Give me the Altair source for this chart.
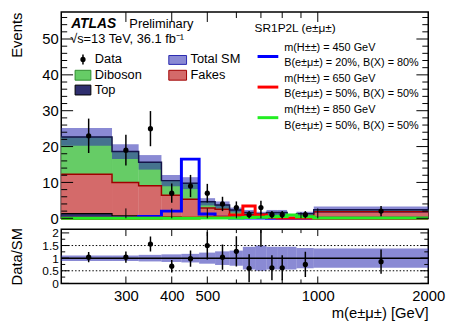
import altair as alt
import pandas as pd

# ---------------- data ----------------
edges = [200, 275, 325, 375, 425, 475, 525, 575, 625, 675, 725, 775, 825, 875, 975, 2000]
centers = [237.5, 300, 350, 400, 450, 500, 550, 600, 650, 700, 750, 800, 850, 925, 1487.5]
top_bkg = [1.3, 0.7, 0.5, 0.3, 0.2, 0.1, 0.1, 0.05, 0.05, 0.05, 0.05, 0.05, 0.0, 0.05, 0.1]
fakes = [11.0, 9.3, 8.6, 6.1, 5.1, 2.8, 2.4, 0.95, 0.95, 0.45, 0.55, 0.55, 0.0, 0.55, 1.7]
diboson = [10.4, 8.6, 6.5, 4.1, 4.5, 1.7, 1.2, 1.3, 0.6, 0.7, 1.0, 1.0, 0.0, 0.7, 0.6]
rel_unc = [0.11, 0.11, 0.13, 0.15, 0.17, 0.22, 0.27, 0.30, 0.45, 0.50, 0.45, 0.45, 0.45, 0.40, 0.38]
data_obs = [23, 19, 25, 7, 9, 7, 4, 3, 1, 3, 1, 1, None, 1, 2]
data_err = [4.8, 4.3, 4.9, 2.7, 3.1, 2.6, 2.0, 1.7, 1.0, 1.9, 1.0, 1.0, None, 1.0, 1.4]
ratio = [1.04, 1.04, 1.56, 0.68, 0.98, 1.5, 1.04, 1.27, 0.6, 2.5, 0.62, 0.62, None, 0.75, 0.86]
ratio_err = [0.2, 0.22, 0.3, 0.25, 0.32, 0.55, 0.5, 0.6, 0.55, 1.05, 0.5, 0.5, None, 0.5, 0.48]
sig450 = [0.0, 0.1, 0.5, 2.0, 16.5, 1.2, 0.3, 0.1, 0.05, 0.05, 0.02, 0.02, 0.02, 0.02, 0.01]
sig650 = [0.0, 0.0, 0.0, 0.05, 0.1, 0.2, 0.3, 0.9, 3.4, 0.9, 0.3, 0.1, 0.1, 0.05, 0.02]
sig850 = [0.0, 0.0, 0.0, 0.0, 0.02, 0.05, 0.1, 0.1, 0.2, 0.3, 0.4, 0.5, 0.9, 0.4, 0.1]

x_tick_labels = [300, 400, 500, 1000, 2000]
x_ticks_major = [300, 400, 500, 1000]
x_ticks_minor = [600, 700, 800, 900]
y_top_major = [0, 10, 20, 30, 40, 50]
y_top_minor = [2, 4, 6, 8, 12, 14, 16, 18, 22, 24, 26, 28, 32, 34, 36, 38, 42, 44, 46, 48, 52, 54, 56]
y_bot_major = [0, 0.5, 1, 1.5, 2]
y_bot_minor = [0.25, 0.75, 1.25, 1.75]
ref_solid = [1.0]
ref_dotted = [0.5, 1.5]

# ---------------- layout constants ----------------
W = 372
H_TOP = 209
H_BOT = 55
FONT = "Liberation Sans"
HATCH = "#2a2ab0"
HATCH_OP = 0.55
C_DIB = "#66cc66"
C_FAK = "#d46a6a"
C_TOP = "#2f2f6f"

xsc = alt.Scale(type="log", domain=[200, 2000], nice=False)
ysc_top = alt.Scale(domain=[0, 57.5], nice=False)
ysc_bot = alt.Scale(domain=[0, 2.15], nice=False)

bins = pd.DataFrame({"lo": edges[:-1], "hi": edges[1:], "c": centers,
                     "top": top_bkg, "fakes": fakes, "dib": diboson, "unc": rel_unc})
bins["zero"] = 0.0
bins["s1"] = bins["top"]
bins["s2"] = bins["s1"] + bins["fakes"]
bins["tot"] = bins["s2"] + bins["dib"]
bins["blo"] = bins["tot"] * (1 - bins["unc"])
bins["bhi"] = bins["tot"] * (1 + bins["unc"])
bins["rlo"] = 1 - bins["unc"]
bins["rhi"] = 1 + bins["unc"]

pts = pd.DataFrame({"c": centers, "d": data_obs, "e": data_err, "r": ratio, "re": ratio_err}).dropna()
pts["dlo"] = pts["d"] - pts["e"]
pts["dhi"] = pts["d"] + pts["e"]
pts["rlo"] = pts["r"] - pts["re"]
pts["rhi"] = pts["r"] + pts["re"]


def step(vals):
    return pd.DataFrame({"x": edges, "y": list(vals) + [vals[-1]]})


# axes (identical axis objects on every layer so that Vega-Lite can merge them)
YAX_TOP = alt.Axis(values=y_top_major, title="Events", titleAnchor="end", titlePadding=18,
                   ticks=False, tickSize=0, domain=False, labelPadding=3, grid=False,
                   labelFlush=False, labelOverlap=False)
YAX_BOT = alt.Axis(values=y_bot_major, labelExpr="'' + datum.value", ticks=False, tickSize=0,
                   domain=False, labelPadding=3, title="Data/SM", titlePadding=18, grid=False,
                   labelFlush=False, labelOverlap=False, labelFontSize=12)
XAX_BOT = alt.Axis(values=x_tick_labels, labelExpr="'' + datum.value", ticks=False, tickSize=0,
                   domain=False, labelPadding=5, title="m(e±μ±) [GeV]", titleAnchor="end",
                   titlePadding=3, labelFlush=False, labelOverlap=False, grid=False)

TOP = dict(ysc=ysc_top, yax=YAX_TOP, xax=None, h=H_TOP)
BOT = dict(ysc=ysc_bot, yax=YAX_BOT, xax=XAX_BOT, h=H_BOT)


def X(field, p):
    return alt.X(field, scale=xsc, axis=p["xax"])


def Y(field, p):
    return alt.Y(field, scale=p["ysc"], axis=p["yax"])


def rects(df, y0, y1, p, **kw):
    return alt.Chart(df).mark_rect(**kw).encode(
        x=X("lo:Q", p), x2="hi:Q", y=Y(f"{y0}:Q", p), y2=f"{y1}:Q")


def sline(vals, color, width, p):
    return alt.Chart(step(vals)).mark_line(interpolate="step-after", color=color, strokeWidth=width).encode(
        x=X("x:Q", p), y=Y("y:Q", p))


def yticks(vals, length, p):
    d = pd.DataFrame({"v": vals})
    base = alt.Chart(d).mark_rule(color="black", strokeWidth=1)
    left = base.encode(y=Y("v:Q", p), x=alt.value(0), x2=alt.value(length))
    right = base.encode(y=Y("v:Q", p), x=alt.value(W), x2=alt.value(W - length))
    return [left, right]


def xticks(vals, length, p):
    d = pd.DataFrame({"v": vals})
    base = alt.Chart(d).mark_rule(color="black", strokeWidth=1)
    bot = base.encode(x=X("v:Q", p), y=alt.value(p["h"]), y2=alt.value(p["h"] - length))
    top = base.encode(x=X("v:Q", p), y=alt.value(0), y2=alt.value(length))
    return [bot, top]


blank = pd.DataFrame({"a": [0]})


def txt(s, x, y, size=13, weight="normal", style="normal"):
    return alt.Chart(blank).mark_text(text=s, align="left", baseline="middle", font=FONT, fontSize=size,
                                      fontWeight=weight, fontStyle=style, color="black").encode(
        x=alt.value(x), y=alt.value(y))


def box(x0, x1, y0, y1, fill, stroke, op=1.0):
    return alt.Chart(blank).mark_rect(fill=fill, stroke=stroke, strokeWidth=1, fillOpacity=op).encode(
        x=alt.value(x0), x2=alt.value(x1), y=alt.value(y0), y2=alt.value(y1))


def seg(x0, x1, y0, y1, color, width):
    return alt.Chart(blank).mark_rule(color=color, strokeWidth=width).encode(
        x=alt.value(x0), x2=alt.value(x1), y=alt.value(y0), y2=alt.value(y1))


# ---------------- top panel ----------------
err_top = alt.Chart(pts).mark_rule(color="black", strokeWidth=1.5).encode(
    x=X("c:Q", TOP), y=Y("dlo:Q", TOP), y2="dhi:Q")
dots_top = alt.Chart(pts).mark_circle(color="black", size=28, opacity=1).encode(
    x=X("c:Q", TOP), y=Y("d:Q", TOP))

tot_vals = list(bins["tot"])
s2_vals = list(bins["s2"])

top_layers = [
    rects(bins, "zero", "s1", TOP, color=C_TOP, stroke=C_TOP, strokeWidth=0.4),
    rects(bins, "s1", "s2", TOP, color=C_FAK, stroke=C_FAK, strokeWidth=0.4),
    rects(bins, "s2", "tot", TOP, color=C_DIB, stroke=C_DIB, strokeWidth=0.4),
    rects(bins, "blo", "bhi", TOP, fill=HATCH, fillOpacity=HATCH_OP, strokeWidth=0),
    sline(top_bkg, "#000000", 1.2, TOP),
    sline(s2_vals, "#a00000", 1.5, TOP),
    sline(tot_vals, "#15154a", 1.5, TOP),
    sline(sig450, "#0000ff", 3, TOP),
    sline(sig650, "#ff0000", 3, TOP),
    sline(sig850, "#22ee22", 3, TOP),
    err_top, dots_top,
]
top_layers += yticks(y_top_major, 12, TOP) + yticks(y_top_minor, 6, TOP)
top_layers += xticks(x_ticks_major, 10, TOP) + xticks(x_ticks_minor, 6, TOP)

# legend / labels
top_layers += [
    txt("ATLAS", 10, 12, size=14, weight="bold", style="italic"),
    txt("Preliminary", 69, 12, size=13),
    txt("√s=13 TeV, 36.1 fb⁻¹", 9, 27, size=13),
    seg(22, 22, 43, 53, "black", 1.5),
    alt.Chart(blank).mark_circle(color="black", size=28, opacity=1).encode(x=alt.value(22), y=alt.value(48)),
    txt("Data", 34, 48),
    box(109, 127, 44, 53, HATCH, HATCH, HATCH_OP),
    txt("Total SM", 131, 48),
    box(14, 30, 59, 69, C_DIB, "#2e8b2e"),
    txt("Diboson", 34, 64),
    box(109, 127, 59, 69, C_FAK, "#a00000"),
    txt("Fakes", 131, 64),
    box(14, 30, 74, 84, C_TOP, "#000000"),
    txt("Top", 34, 79),
    txt("SR1P2L (e±μ±)", 196, 16, size=12),
    seg(199, 220, 45, 45, "#0000ff", 3),
    txt("m(H±±) = 450 GeV", 226, 36, size=11),
    txt("B(e±μ±) = 20%, B(X) = 80%", 226, 52, size=11),
    seg(199, 220, 76, 76, "#ff0000", 3),
    txt("m(H±±) = 650 GeV", 226, 68, size=11),
    txt("B(e±μ±) = 50%, B(X) = 50%", 226, 83, size=11),
    seg(199, 220, 107, 107, "#22ee22", 3),
    txt("m(H±±) = 850 GeV", 226, 99, size=11),
    txt("B(e±μ±) = 50%, B(X) = 50%", 226, 115, size=11),
]

top = alt.layer(*top_layers).properties(width=W, height=H_TOP)

# ---------------- ratio panel ----------------
band = rects(bins, "rlo", "rhi", BOT, fill=HATCH, fillOpacity=HATCH_OP, strokeWidth=0)

line1 = alt.Chart(pd.DataFrame({"v": ref_solid})).mark_rule(color="black", strokeWidth=1.5).encode(
    y=Y("v:Q", BOT), x=alt.value(0), x2=alt.value(W))
dotted = alt.Chart(pd.DataFrame({"v": ref_dotted})).mark_rule(color="black", strokeWidth=1, strokeDash=[1.5, 2]).encode(
    y=Y("v:Q", BOT), x=alt.value(0), x2=alt.value(W))

err_bot = alt.Chart(pts).mark_rule(color="black", strokeWidth=1.5, clip=True).encode(
    x=X("c:Q", BOT), y=Y("rlo:Q", BOT), y2="rhi:Q")
dots_bot = alt.Chart(pts).mark_circle(color="black", size=28, opacity=1, clip=True).encode(
    x=X("c:Q", BOT), y=Y("r:Q", BOT))

bot_layers = [band, dotted, line1, err_bot, dots_bot]
bot_layers += yticks(y_bot_major, 8, BOT) + yticks(y_bot_minor, 4, BOT)
bot_layers += xticks(x_ticks_major, 7, BOT) + xticks(x_ticks_minor, 4, BOT)

bot = alt.layer(*bot_layers).properties(width=W, height=H_BOT)

chart = alt.vconcat(top, bot, spacing=11, bounds="flush").properties(
    padding={"left": 0, "top": 0, "right": 0, "bottom": 0}
).configure_axis(
    labelFont=FONT, titleFont=FONT, labelFontSize=15, titleFontSize=15,
    titleFontWeight="normal", labelColor="black", titleColor="black"
).configure_view(stroke="black", strokeWidth=1.5)

chart.save("out.html", embed_options={"renderer": "svg", "actions": False})
